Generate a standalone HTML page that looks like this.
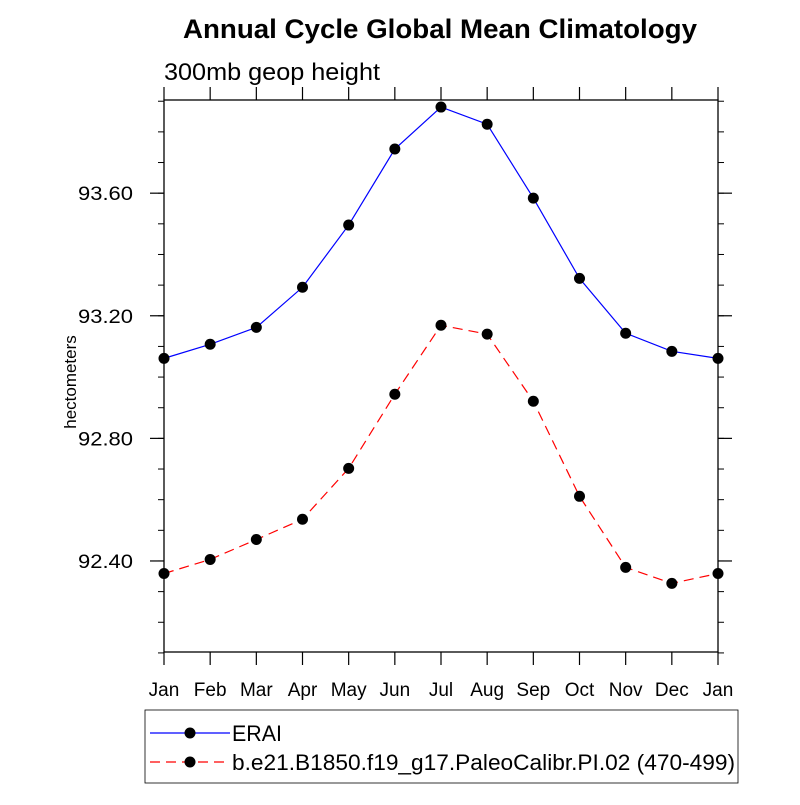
<!DOCTYPE html>
<html><head><meta charset="utf-8"><style>body{margin:0;background:#fff}svg{font-family:"Liberation Sans",sans-serif}</style></head>
<body>
<svg width="800" height="800" viewBox="0 0 800 800">
<g id="g"></g>
</svg>
<script>
const months=["Jan","Feb","Mar","Apr","May","Jun","Jul","Aug","Sep","Oct","Nov","Dec","Jan"];
const erai=[93.061,93.107,93.162,93.293,93.496,93.744,93.881,93.825,93.584,93.322,93.143,93.084,93.061];
const model=[92.359,92.405,92.470,92.536,92.702,92.944,93.169,93.140,92.921,92.611,92.379,92.327,92.359];
const yMajor=[92.4,92.8,93.2,93.6];
const yMajorLabels=["92.40","92.80","93.20","93.60"];
const yMin=92.103,yMax=93.904;
const X0=164,X1=718,Y0=100,Y1=652;
const xs=i=>X0+(X1-X0)*i/(months.length-1);
const ys=v=>Y1-(v-yMin)/(yMax-yMin)*(Y1-Y0);
const g=document.getElementById('g');
const NS="http://www.w3.org/2000/svg";
function mk(t,a,p){const e=document.createElementNS(NS,t);for(const k in a)e.setAttribute(k,a[k]);(p||g).appendChild(e);return e;}
function txt(s,a){const e=mk('text',a);e.textContent=s;return e;}
let e;
e=txt("Annual Cycle Global Mean Climatology",{x:183,y:38,'font-size':27,'font-weight':'bold',textLength:514,lengthAdjust:'spacingAndGlyphs'});

e=txt("300mb geop height",{x:164,y:80,'font-size':24,textLength:216,lengthAdjust:'spacingAndGlyphs'});

e=txt("hectometers",{x:0,y:0,'font-size':17,'text-anchor':'middle',transform:'translate(76,382) rotate(-90)'});

e=mk('rect',{x:X0,y:Y0,width:X1-X0,height:Y1-Y0,fill:'none',stroke:'#000','stroke-width':1.3});

for(let k=0;k<=18;k++){const v=92.1+k*0.1;if(v<yMin-0.01||v>yMax+0.01)continue;const y=ys(v);
 mk('line',{x1:X0-6,x2:X0,y1:y,y2:y,stroke:'#000'});mk('line',{x1:X1,x2:X1+6,y1:y,y2:y,stroke:'#000'});}
yMajor.forEach((v,i)=>{const y=ys(v);
 mk('line',{x1:X0-14,x2:X0,y1:y,y2:y,stroke:'#000','stroke-width':1.2});
 mk('line',{x1:X1,x2:X1+14,y1:y,y2:y,stroke:'#000','stroke-width':1.2});
 e=txt(yMajorLabels[i],{x:X0-31,y:y+7,'text-anchor':'end','font-size':19,textLength:55,lengthAdjust:'spacingAndGlyphs'});
 });
months.forEach((m,i)=>{const x=xs(i);
 mk('line',{x1:x,x2:x,y1:Y1,y2:Y1+13,stroke:'#000','stroke-width':1.2});
 mk('line',{x1:x,x2:x,y1:Y0-13,y2:Y0,stroke:'#000','stroke-width':1.2});
 e=txt(m,{x:x,y:Y1+44,'text-anchor':'middle','font-size':19});
 });
function series(vals,color,dash,name){
 const pts=vals.map((v,i)=>xs(i)+','+ys(v)).join(' ');
 e=mk('polyline',{points:pts,fill:'none',stroke:color,'stroke-width':1.2,'stroke-dasharray':dash});
 
 vals.forEach((v,i)=>{e=mk('circle',{cx:xs(i),cy:ys(v),r:5.5,fill:'#000'});
 });
}
series(erai,'#0000ff','none','erai');
series(model,'#ff0000','10 6','model');
e=mk('rect',{x:145,y:710,width:593,height:73,fill:'none',stroke:'#000','stroke-width':0.8});

mk('line',{x1:150,x2:230,y1:733,y2:733,stroke:'#0000ff','stroke-width':1.2});
mk('circle',{cx:190,cy:733,r:5.5,fill:'#000'});
e=txt("ERAI",{x:232,y:741,'font-size':22,textLength:50,lengthAdjust:'spacingAndGlyphs'});

mk('line',{x1:150,x2:230,y1:762,y2:762,stroke:'#ff0000','stroke-width':1.2,'stroke-dasharray':'10 6'});
mk('circle',{cx:190,cy:762,r:5.5,fill:'#000'});
e=txt("b.e21.B1850.f19_g17.PaleoCalibr.PI.02 (470-499)",{x:232,y:770,'font-size':22,textLength:503,lengthAdjust:'spacingAndGlyphs'});

</script>
</body></html>
